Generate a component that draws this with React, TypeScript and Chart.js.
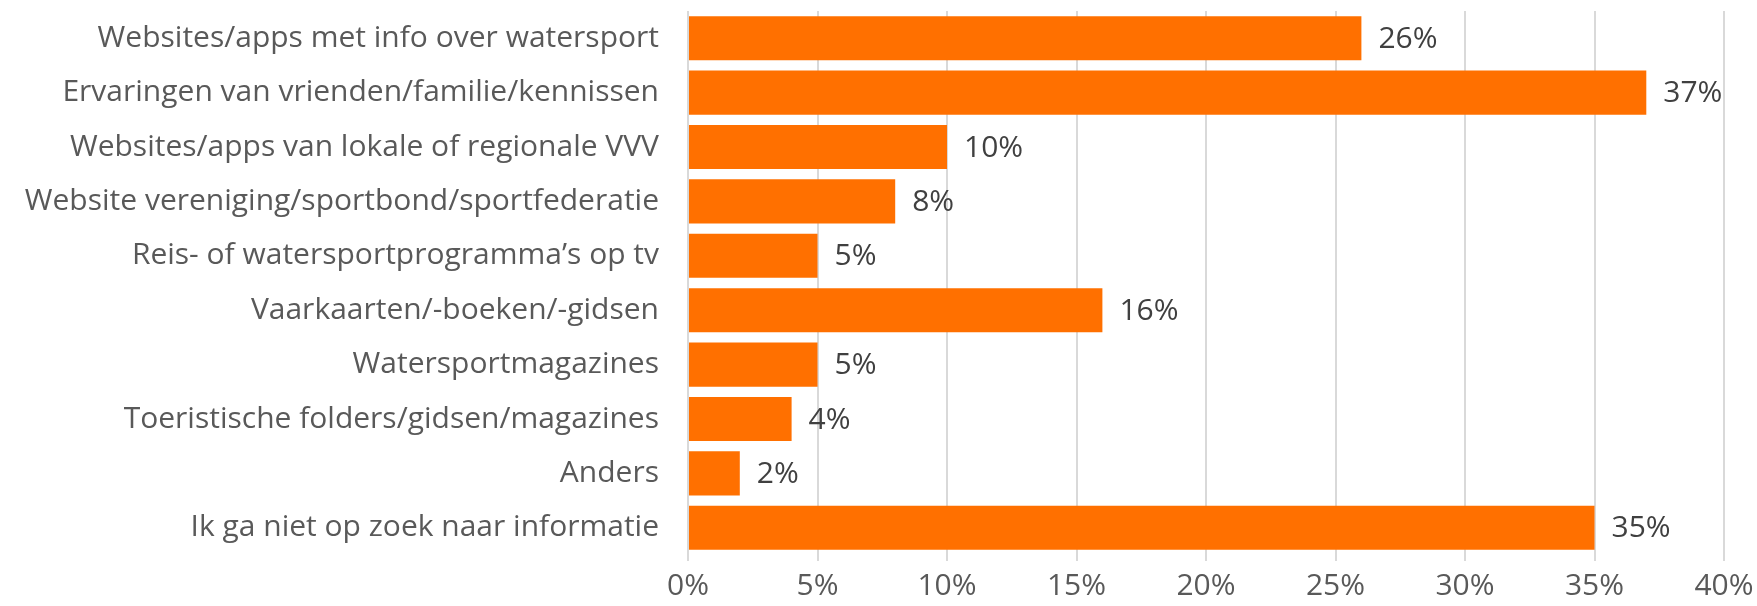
import React, { useEffect, useRef } from "react";
import { Chart, registerables } from "chart.js";

Chart.register(...registerables);

const categories = [
  "Websites/apps met info over watersport",
  "Ervaringen van vrienden/familie/kennissen",
  "Websites/apps van lokale of regionale VVV",
  "Website vereniging/sportbond/sportfederatie",
  "Reis- of watersportprogramma’s op tv",
  "Vaarkaarten/-boeken/-gidsen",
  "Watersportmagazines",
  "Toeristische folders/gidsen/magazines",
  "Anders",
  "Ik ga niet op zoek naar informatie",
];
const values = [26, 37, 10, 8, 5, 16, 5, 4, 2, 35];
const xMin = 0;
const xMax = 40;
const xStep = 5;

const FONT = "'Open Sans', sans-serif";
const FONT_SIZE = 30;

const dataLabelPlugin = {
  id: "dataLabels",
  afterDatasetsDraw(chart: any) {
    const ctx = chart.ctx;
    const meta = chart.getDatasetMeta(0);
    ctx.save();
    ctx.font = `${FONT_SIZE}px ${FONT}`;
    ctx.fillStyle = "#404040";
    ctx.textAlign = "left";
    ctx.textBaseline = "middle";
    meta.data.forEach((el: any, i: number) => {
      ctx.fillText(values[i] + "%", el.x + 17, el.y + 1);
    });
    ctx.restore();
  },
};

export default function App() {
  const ref = useRef<HTMLCanvasElement>(null);
  useEffect(() => {
    document.body.style.margin = "0";
    const chart = new Chart(ref.current!, {
      type: "bar",
      data: {
        labels: categories,
        datasets: [
          {
            data: values,
            backgroundColor: "#FF7000",
            borderWidth: 0,
            barPercentage: 0.81,
            categoryPercentage: 1,
          },
        ],
      },
      options: {
        indexAxis: "y",
        responsive: false,
        animation: false,
        layout: { padding: { top: 11, right: 33, left: 0, bottom: 0 } },
        plugins: { legend: { display: false }, tooltip: { enabled: false } },
        scales: {
          x: {
            min: xMin,
            max: xMax,
            ticks: {
              stepSize: xStep,
              callback: (v: any) => v + "%",
              color: "#595959",
              font: { family: FONT, size: FONT_SIZE },
              padding: 7,
            },
            grid: { color: "#d9d9d9", lineWidth: 2, drawTicks: true, tickLength: 6 },
            border: { display: false },
            afterFit: (s: any) => {
              s.height = 51;
              s.paddingLeft = 0;
              s.paddingRight = 0;
            },
          },
          y: {
            ticks: {
              color: "#595959",
              font: { family: FONT, size: FONT_SIZE },
              padding: 29,
              autoSkip: false,
            },
            grid: { display: false, drawTicks: false },
            border: { display: false },
            afterFit: (s: any) => {
              s.width = 688;
              s.paddingTop = 0;
              s.paddingBottom = 0;
            },
          },
        },
      } as any,
      plugins: [dataLabelPlugin],
    });
    return () => chart.destroy();
  }, []);
  return <canvas ref={ref} width={1757} height={606} style={{ display: "block" }} />;
}
